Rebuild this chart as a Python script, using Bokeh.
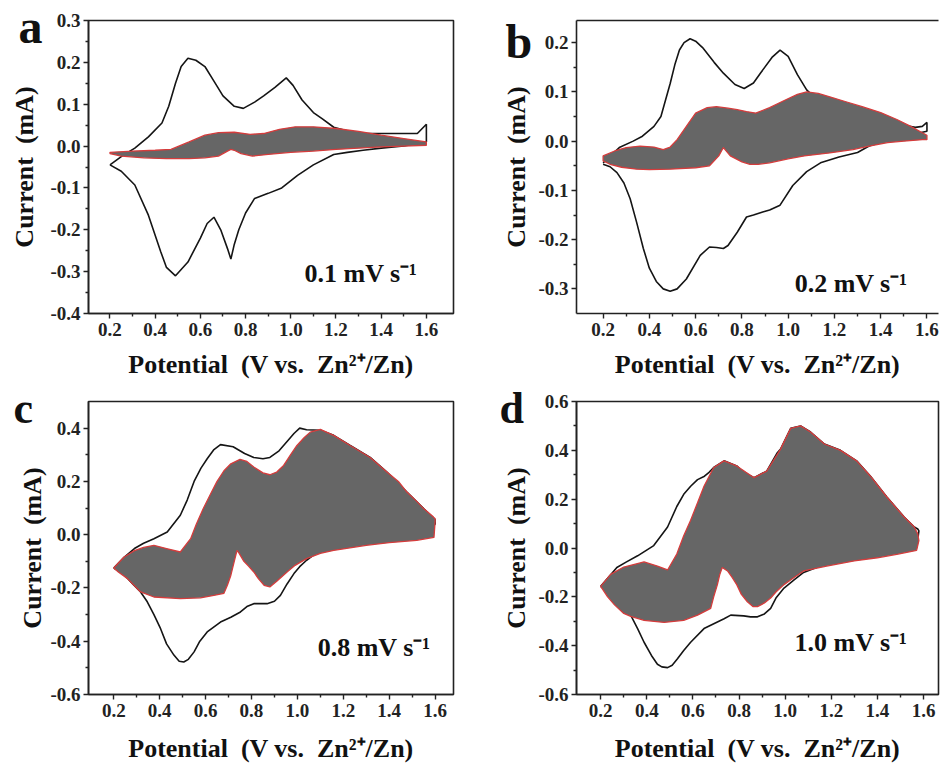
from bokeh.plotting import figure
from bokeh.layouts import column, row
from bokeh.models import FixedTicker, Label, LinearAxis, NumeralTickFormatter, Range1d
from bokeh.embed import file_html
from bokeh.resources import INLINE

FONT = "Liberation Serif"

# ---------------- data ----------------
x_ticks = [0.2, 0.4, 0.6, 0.8, 1.0, 1.2, 1.4, 1.6]
x_minor = [0.3, 0.5, 0.7, 0.9, 1.1, 1.3, 1.5]

a_yticks = [-0.4, -0.3, -0.2, -0.1, 0.0, 0.1, 0.2, 0.3]
a_yminor = [-0.35, -0.25, -0.15, -0.05, 0.05, 0.15, 0.25]
b_yticks = [-0.3, -0.2, -0.1, 0.0, 0.1, 0.2]
b_yminor = [-0.25, -0.15, -0.05, 0.05, 0.15]
c_yticks = [-0.6, -0.4, -0.2, 0.0, 0.2, 0.4]
c_yminor = [-0.5, -0.3, -0.1, 0.1, 0.3]
d_yticks = [-0.6, -0.4, -0.2, 0.0, 0.2, 0.4, 0.6]
d_yminor = [-0.5, -0.3, -0.1, 0.1, 0.3, 0.5]

rate_labels = ["0.1 mV s\u207b\u00b9", "0.2 mV s\u207b\u00b9", "0.8 mV s\u207b\u00b9", "1.0 mV s\u207b\u00b9"]
panel_letters = ["a", "b", "c", "d"]

# ---- panel a : 0.1 mV/s ----
a_cv_up_v = [0.20, 0.25, 0.31, 0.37, 0.43, 0.46, 0.49, 0.515, 0.545, 0.58, 0.62, 0.66, 0.70, 0.75, 0.79, 0.84, 0.88, 0.93, 0.98, 1.01, 1.05, 1.10, 1.14, 1.19, 1.26, 1.34, 1.45, 1.56, 1.60]
a_cv_up_i = [-0.045, -0.025, -0.005, 0.022, 0.055, 0.095, 0.15, 0.19, 0.21, 0.205, 0.19, 0.155, 0.12, 0.095, 0.09, 0.105, 0.12, 0.14, 0.163, 0.145, 0.11, 0.08, 0.065, 0.045, 0.035, 0.03, 0.03, 0.03, 0.052]
a_cv_dn_v = [1.60, 1.50, 1.40, 1.32, 1.25, 1.19, 1.10, 1.03, 0.96, 0.90, 0.84, 0.80, 0.77, 0.75, 0.735, 0.72, 0.69, 0.66, 0.63, 0.60, 0.545, 0.49, 0.45, 0.425, 0.37, 0.31, 0.25, 0.20]
a_cv_dn_i = [0.01, 0.0, -0.005, -0.01, -0.015, -0.02, -0.045, -0.07, -0.1, -0.113, -0.125, -0.16, -0.2, -0.235, -0.27, -0.245, -0.2, -0.17, -0.185, -0.22, -0.277, -0.31, -0.29, -0.253, -0.165, -0.093, -0.06, -0.045]
a_cap_up_v = [0.20, 0.30, 0.40, 0.47, 0.55, 0.62, 0.68, 0.75, 0.82, 0.88, 0.95, 1.02, 1.10, 1.20, 1.30, 1.40, 1.50, 1.60]
a_cap_up_i = [-0.015, -0.012, -0.01, -0.008, 0.01, 0.026, 0.032, 0.033, 0.028, 0.03, 0.04, 0.046, 0.046, 0.042, 0.035, 0.026, 0.018, 0.01]
a_cap_dn_v = [1.60, 1.50, 1.40, 1.30, 1.20, 1.10, 1.00, 0.90, 0.83, 0.78, 0.75, 0.735, 0.72, 0.68, 0.62, 0.55, 0.45, 0.35, 0.25, 0.20]
a_cap_dn_i = [0.002, 0.0, -0.002, -0.005, -0.008, -0.012, -0.015, -0.02, -0.024, -0.018, -0.01, -0.008, -0.012, -0.024, -0.028, -0.03, -0.03, -0.028, -0.024, -0.018]

# ---- panel b : 0.2 mV/s ----
b_cv_up_v = [0.20, 0.27, 0.33, 0.37, 0.42, 0.45, 0.49, 0.51, 0.53, 0.55, 0.576, 0.60, 0.63, 0.68, 0.72, 0.77, 0.81, 0.85, 0.88, 0.93, 0.965, 1.00, 1.04, 1.08, 1.14, 1.21, 1.30, 1.40, 1.50, 1.55, 1.58, 1.60]
b_cv_up_i = [-0.044, -0.013, 0.0, 0.01, 0.03, 0.05, 0.117, 0.155, 0.185, 0.2, 0.208, 0.203, 0.19, 0.16, 0.138, 0.115, 0.107, 0.118, 0.138, 0.17, 0.185, 0.172, 0.135, 0.104, 0.077, 0.06, 0.05, 0.04, 0.032, 0.028, 0.03, 0.038]
b_cv_dn_v = [1.60, 1.55, 1.50, 1.42, 1.35, 1.30, 1.22, 1.14, 1.08, 1.02, 0.965, 0.92, 0.89, 0.85, 0.82, 0.78, 0.74, 0.72, 0.69, 0.66, 0.62, 0.56, 0.52, 0.49, 0.46, 0.43, 0.40, 0.374, 0.345, 0.317, 0.29, 0.26, 0.23, 0.20]
b_cv_dn_i = [0.02, 0.015, 0.01, 0.0, -0.01, -0.023, -0.032, -0.044, -0.062, -0.09, -0.13, -0.14, -0.144, -0.15, -0.154, -0.185, -0.212, -0.218, -0.216, -0.215, -0.232, -0.28, -0.3, -0.305, -0.3, -0.285, -0.258, -0.218, -0.165, -0.117, -0.085, -0.064, -0.052, -0.047]
b_cap_up_v = [0.20, 0.25, 0.30, 0.36, 0.42, 0.46, 0.49, 0.52, 0.56, 0.60, 0.65, 0.69, 0.74, 0.78, 0.82, 0.86, 0.92, 0.99, 1.04, 1.08, 1.13, 1.18, 1.25, 1.32, 1.40, 1.47, 1.53, 1.58, 1.60]
b_cap_up_i = [-0.03, -0.02, -0.013, -0.01, -0.012, -0.017, -0.012, 0.003, 0.03, 0.057, 0.068, 0.07, 0.067, 0.064, 0.06, 0.057, 0.068, 0.084, 0.095, 0.1, 0.097, 0.09, 0.08, 0.07, 0.058, 0.044, 0.03, 0.017, 0.012]
b_cap_dn_v = [1.60, 1.58, 1.50, 1.43, 1.35, 1.28, 1.18, 1.07, 1.00, 0.92, 0.87, 0.835, 0.80, 0.75, 0.72, 0.70, 0.66, 0.60, 0.49, 0.40, 0.345, 0.28, 0.23, 0.20]
b_cap_dn_i = [0.003, 0.003, 0.0, -0.003, -0.01, -0.017, -0.024, -0.03, -0.036, -0.044, -0.047, -0.047, -0.042, -0.03, -0.013, -0.03, -0.05, -0.054, -0.057, -0.058, -0.057, -0.053, -0.047, -0.04]

# ---- panel c : 0.8 mV/s ----
c_cv_up_v = [0.20, 0.245, 0.29, 0.33, 0.375, 0.433, 0.49, 0.52, 0.55, 0.58, 0.607, 0.635, 0.665, 0.72, 0.77, 0.81, 0.85, 0.88, 0.92, 0.955, 0.985, 1.01, 1.04, 1.10, 1.158, 1.23, 1.317, 1.39, 1.477, 1.55, 1.60]
c_cv_up_i = [-0.125, -0.085, -0.052, -0.032, -0.015, 0.01, 0.073, 0.13, 0.2, 0.25, 0.285, 0.318, 0.338, 0.33, 0.305, 0.29, 0.285, 0.29, 0.315, 0.35, 0.38, 0.4, 0.394, 0.392, 0.373, 0.335, 0.29, 0.235, 0.16, 0.098, 0.056]
c_cv_dn_v = [1.60, 1.55, 1.45, 1.30, 1.158, 1.08, 1.04, 1.01, 0.985, 0.955, 0.926, 0.90, 0.868, 0.81, 0.78, 0.752, 0.71, 0.665, 0.607, 0.575, 0.55, 0.525, 0.505, 0.485, 0.462, 0.43, 0.404, 0.375, 0.346, 0.317, 0.288, 0.245, 0.20]
c_cv_dn_i = [0.04, -0.01, -0.02, -0.034, -0.052, -0.07, -0.096, -0.12, -0.146, -0.185, -0.228, -0.25, -0.259, -0.259, -0.27, -0.29, -0.31, -0.328, -0.365, -0.4, -0.44, -0.468, -0.478, -0.475, -0.452, -0.41, -0.353, -0.3, -0.252, -0.215, -0.19, -0.15, -0.125]
c_cap_up_v = [0.20, 0.245, 0.29, 0.33, 0.375, 0.43, 0.49, 0.535, 0.56, 0.59, 0.62, 0.65, 0.68, 0.71, 0.75, 0.78, 0.81, 0.85, 0.88, 0.91, 0.94, 0.97, 0.998, 1.03, 1.056, 1.10, 1.158, 1.23, 1.317, 1.39, 1.44, 1.477, 1.52, 1.55, 1.593, 1.60]
c_cap_up_i = [-0.125, -0.084, -0.06, -0.048, -0.04, -0.052, -0.065, -0.015, 0.04, 0.098, 0.15, 0.2, 0.24, 0.266, 0.283, 0.275, 0.254, 0.232, 0.225, 0.235, 0.26, 0.3, 0.335, 0.365, 0.385, 0.395, 0.373, 0.335, 0.29, 0.235, 0.2, 0.16, 0.125, 0.098, 0.066, 0.06]
c_cap_dn_v = [1.60, 1.595, 1.52, 1.40, 1.30, 1.158, 1.10, 1.04, 0.99, 0.955, 0.91, 0.88, 0.855, 0.83, 0.81, 0.787, 0.767, 0.745, 0.737, 0.725, 0.71, 0.695, 0.68, 0.636, 0.578, 0.49, 0.375, 0.317, 0.26, 0.22, 0.20]
c_cap_dn_i = [0.05, -0.01, -0.021, -0.03, -0.04, -0.059, -0.07, -0.09, -0.115, -0.14, -0.175, -0.196, -0.19, -0.165, -0.14, -0.118, -0.1, -0.068, -0.059, -0.1, -0.153, -0.19, -0.22, -0.228, -0.237, -0.24, -0.234, -0.215, -0.165, -0.14, -0.125]

# ---- panel d : 1.0 mV/s ----
d_cv_up_v = [0.20, 0.243, 0.27, 0.31, 0.36, 0.43, 0.49, 0.53, 0.56, 0.59, 0.62, 0.65, 0.67, 0.69, 0.735, 0.79, 0.82, 0.865, 0.92, 0.966, 0.98, 1.024, 1.067, 1.11, 1.17, 1.24, 1.31, 1.37, 1.44, 1.515, 1.56, 1.575, 1.58]
d_cv_up_i = [-0.157, -0.11, -0.08, -0.058, -0.032, 0.01, 0.086, 0.17, 0.22, 0.253, 0.28, 0.294, 0.31, 0.33, 0.357, 0.336, 0.31, 0.288, 0.315, 0.39, 0.405, 0.49, 0.5, 0.475, 0.426, 0.4, 0.357, 0.294, 0.21, 0.128, 0.086, 0.078, 0.07]
d_cv_dn_v = [1.58, 1.57, 1.45, 1.37, 1.226, 1.15, 1.08, 1.04, 0.995, 0.96, 0.937, 0.91, 0.88, 0.85, 0.82, 0.764, 0.735, 0.706, 0.648, 0.59, 0.56, 0.532, 0.51, 0.49, 0.465, 0.446, 0.42, 0.388, 0.36, 0.33, 0.287, 0.243, 0.20]
d_cv_dn_i = [0.07, 0.0, -0.02, -0.032, -0.053, -0.075, -0.1, -0.13, -0.164, -0.205, -0.247, -0.27, -0.282, -0.282, -0.278, -0.275, -0.29, -0.303, -0.33, -0.386, -0.42, -0.455, -0.48, -0.49, -0.487, -0.476, -0.44, -0.386, -0.33, -0.275, -0.226, -0.19, -0.157]
d_cap_up_v = [0.20, 0.243, 0.30, 0.388, 0.446, 0.49, 0.53, 0.56, 0.59, 0.62, 0.648, 0.69, 0.735, 0.79, 0.83, 0.865, 0.92, 0.95, 0.98, 1.024, 1.067, 1.11, 1.17, 1.24, 1.31, 1.37, 1.44, 1.515, 1.56, 1.575, 1.58]
d_cap_up_i = [-0.157, -0.108, -0.078, -0.057, -0.074, -0.09, -0.025, 0.05, 0.114, 0.185, 0.253, 0.33, 0.357, 0.336, 0.31, 0.288, 0.315, 0.36, 0.405, 0.49, 0.5, 0.475, 0.426, 0.4, 0.357, 0.294, 0.21, 0.128, 0.086, 0.058, 0.03]
d_cap_dn_v = [1.58, 1.57, 1.49, 1.40, 1.30, 1.18, 1.08, 1.04, 0.995, 0.96, 0.937, 0.91, 0.88, 0.86, 0.836, 0.81, 0.79, 0.77, 0.75, 0.727, 0.716, 0.706, 0.69, 0.677, 0.62, 0.56, 0.475, 0.388, 0.33, 0.30, 0.26, 0.23, 0.20]
d_cap_dn_i = [0.03, -0.01, -0.025, -0.04, -0.053, -0.074, -0.094, -0.12, -0.15, -0.18, -0.205, -0.225, -0.24, -0.24, -0.22, -0.19, -0.15, -0.12, -0.094, -0.08, -0.11, -0.15, -0.2, -0.247, -0.275, -0.296, -0.305, -0.296, -0.28, -0.268, -0.233, -0.2, -0.157]

X_TITLE = "Potential\u00a0 (V vs.\u00a0 Zn\u00b2\u207a/Zn)"
Y_TITLE = "Current\u00a0 (mA)"


def panel(width, height, borders, xr, yr, yticks, yminor, cv, cap, rate, rate_xy,
          ylab_standoff, xlab_standoff, letter, letter_offset, letter_standoff,
          letter_size, cut_right=False):
    left, right, top, bottom = borders
    p = figure(width=width, height=height, x_range=Range1d(*xr), y_range=Range1d(*yr),
               output_backend="svg", toolbar_location=None,
               min_border_left=left, min_border_right=right,
               min_border_top=top, min_border_bottom=bottom)
    p.grid.visible = False
    p.background_fill_color = "white"
    p.border_fill_color = "white"

    # CV (black loop)
    p.line(cv[0] + cv[2], cv[1] + cv[3], line_color="#151515", line_width=1.6)
    # capacitive contribution (grey patch, red outline)
    p.patch(cap[0] + cap[2], cap[1] + cap[3], fill_color="#666666", fill_alpha=1.0,
            line_color="#d53c3c", line_width=1.3)

    xax = p.below[0]
    yax = p.left[0]
    for ax in (xax, yax):
        ax.axis_line_width = 1.6
        ax.axis_line_color = "#222222"
        ax.major_tick_line_width = 1.4
        ax.minor_tick_line_width = 1.4
        ax.major_tick_line_color = "#222222"
        ax.minor_tick_line_color = "#222222"
        ax.major_tick_out = 5
        ax.major_tick_in = 0
        ax.minor_tick_out = 3
        ax.minor_tick_in = 0
        ax.major_label_text_font = FONT
        ax.major_label_text_font_style = "bold"
        ax.major_label_text_font_size = "19px"
        ax.major_label_text_color = "#222222"
        ax.axis_label_text_font = FONT
        ax.axis_label_text_font_style = "bold"
        ax.axis_label_text_font_size = "26px"
        ax.axis_label_text_color = "#111111"
        ax.formatter = NumeralTickFormatter(format="0.0")

    xax.ticker = FixedTicker(ticks=x_ticks, minor_ticks=x_minor)
    yax.ticker = FixedTicker(ticks=yticks, minor_ticks=yminor)
    xax.axis_label = X_TITLE
    yax.axis_label = Y_TITLE
    xax.major_label_standoff = 4
    yax.major_label_standoff = 3
    xax.axis_label_standoff = xlab_standoff
    yax.axis_label_standoff = ylab_standoff

    # panel letter as the (left aligned) title pulled down next to the frame
    p.title.text = letter
    p.title.align = "left"
    p.title.offset = letter_offset
    p.title.standoff = letter_standoff
    p.title.vertical_align = "bottom"
    p.title.text_font = FONT
    p.title.text_font_style = "bold"
    p.title.text_font_size = letter_size
    p.title.text_color = "#111111"

    if cut_right:
        # the reference is cropped on the right: no right frame line
        p.outline_line_color = None
        top_ax = LinearAxis(ticker=FixedTicker(ticks=[], minor_ticks=[]),
                            axis_line_width=1.6, axis_line_color="#222222",
                            major_tick_out=0, major_tick_in=0, minor_tick_out=0, minor_tick_in=0,
                            major_label_text_font_size="0px", major_label_standoff=0)
        p.add_layout(top_ax, "above")
        p.above = [top_ax] + [r for r in p.above if r is not top_ax]
    else:
        p.outline_line_color = "#222222"
        p.outline_line_width = 1.6

    p.add_layout(Label(x=rate_xy[0], y=rate_xy[1], text=rate, text_align="right",
                       text_baseline="middle", text_font=FONT, text_font_style="bold",
                       text_font_size="26px", text_color="#111111"))
    return p


pa = panel(470, 382, (88, 17, 20, 69), (0.105, 1.72), (-0.4, 0.3), a_yticks, a_yminor,
           (a_cv_up_v, a_cv_up_i, a_cv_dn_v, a_cv_dn_i),
           (a_cap_up_v, a_cap_up_i, a_cap_dn_v, a_cap_dn_i),
           rate_labels[0], (1.56, -0.304), 8, 11, panel_letters[0], -70, -64, "48px")
pb = panel(473, 382, (106, 5, 20, 69), (0.085, 1.65), (-0.35, 0.245), b_yticks, b_yminor,
           (b_cv_up_v, b_cv_up_i, b_cv_dn_v, b_cv_dn_i),
           (b_cap_up_v, b_cap_up_i, b_cap_dn_v, b_cap_dn_i),
           rate_labels[1], (1.516, -0.289), 4, 11, panel_letters[1], -71, -94, "48px",
           cut_right=True)
pc = panel(470, 385, (88, 17, 19, 73), (0.09, 1.68), (-0.6, 0.5), c_yticks, c_yminor,
           (c_cv_up_v, c_cv_up_i, c_cv_dn_v, c_cv_dn_i),
           (c_cap_up_v, c_cap_up_i, c_cap_dn_v, c_cap_dn_i),
           rate_labels[2], (1.58, -0.423), 0, 14, panel_letters[2], -75, -62, "44px")
pd_ = panel(473, 385, (106, 5, 19, 73), (0.095, 1.665), (-0.6, 0.6), d_yticks, d_yminor,
            (d_cv_up_v, d_cv_up_i, d_cv_dn_v, d_cv_dn_i),
            (d_cap_up_v, d_cap_up_i, d_cap_dn_v, d_cap_dn_i),
            rate_labels[3], (1.53, -0.387), 4, 14, panel_letters[3], -77, -62, "44px")

layout = column(row(pa, pb, spacing=0), row(pc, pd_, spacing=0), spacing=0)

with open("out.html", "w") as f:
    f.write(file_html(layout, INLINE))
